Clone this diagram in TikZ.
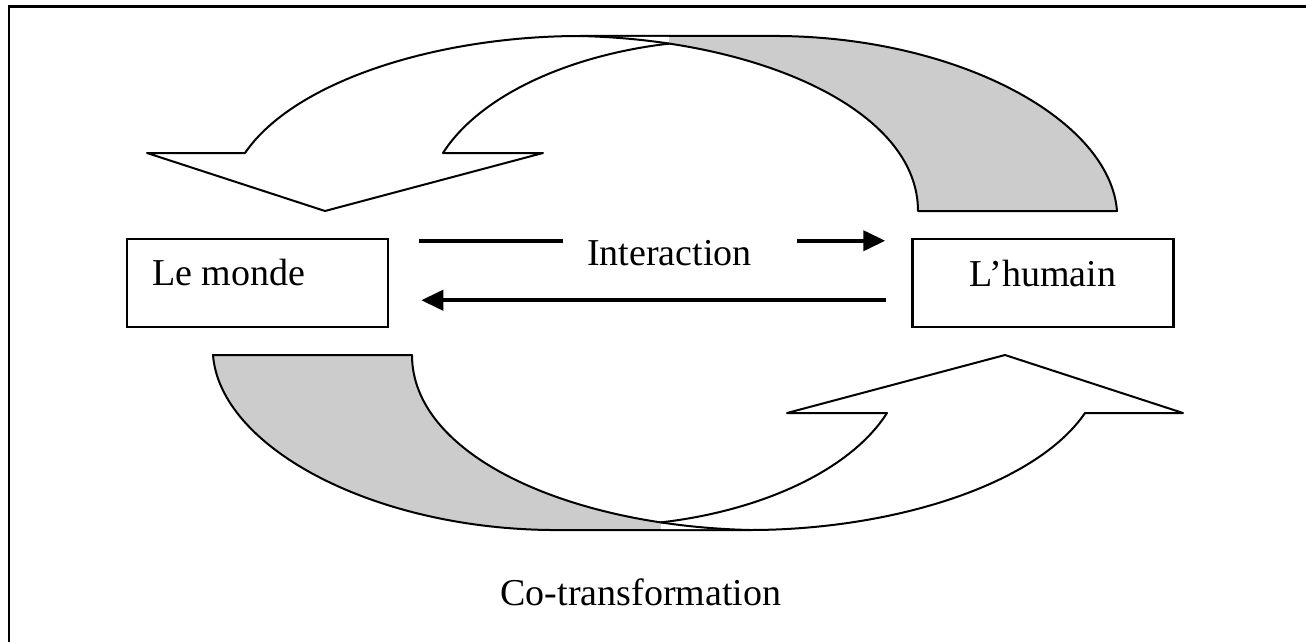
\documentclass[tikz,border=0pt]{standalone}
\usepackage{fontspec}
\setmainfont{Liberation Serif}
\usetikzlibrary{arrows.meta}
\definecolor{bandgray}{RGB}{204,204,204}
\tikzset{
  shapeline/.style={line width=2pt, line join=round},
  framestyle/.style={line width=2.5pt},
  boxstyle/.style={draw, line width=2.5pt, minimum width=261pt, minimum height=88pt, inner sep=0pt},
  conn/.style={line width=4pt, -{Triangle[length=22pt,width=20pt]}},
  lbl/.style={font=\fontsize{38}{44}\selectfont, inner sep=0pt},
  gapstyle/.style={fill=white, inner sep=0pt, minimum width=234pt, minimum height=14pt},
}
\newcommand{\myribbon}{%
  % back face (gray band)
  \filldraw[shapeline, fill=bandgray] (580,36) -- (780,36)
    .. controls (960,38) and (1110,120) .. (1117,211) -- (918,211)
    .. controls (918,110) and (760,40) .. (580,36) -- cycle;
  % front face (white arrow)
  \fill[white] (245,153) .. controls (295,80) and (440,36) .. (580,37)
    -- (669,37) -- (669.2,43.6)
    .. controls (570,55) and (480,95) .. (443,153) -- (543,153) -- (325,211) -- (147,153) -- cycle;
  \draw[shapeline] (580,36) .. controls (440,36) and (295,80) .. (245,153)
    -- (147,153) -- (325,211) -- (543,153) -- (443,153)
    .. controls (480,95) and (570,55) .. (669.2,43.6);
  \draw[shapeline] (580,36) .. controls (610.6,36.7) and (640.6,39.3) .. (669.2,43.6);
}
\begin{document}
\begin{tikzpicture}[x=1pt, y=-1pt]
\useasboundingbox (0,0) rectangle (1306,642);
% outer frame (only top and left edges visible)
\draw[framestyle] (9,642) -- (9,6.5) -- (1306,6.5);

% curved arrows
\myribbon
\begin{scope}[rotate around={180:(665,283)}]
  \myribbon
\end{scope}

% boxes
\node[boxstyle] (monde) at (257.5,283) {};
\node[boxstyle] (humain) at (1043,283) {};
\node[lbl, anchor=base west] (mondet) at (152,285) {Le monde};
\node[lbl, anchor=base] (humaint) at (1043,286) {L’humain};

% interaction arrows
\draw[conn] ([shift={(30,3)}]monde.north east) -- ([shift={(-26,3)}]humain.north west);
\draw[conn] ([shift={(-25,-28)}]humain.south west) -- ([shift={(32,-28)}]monde.south east);
\node[gapstyle] (gap) at (680,242) {};
\node[lbl, anchor=base] (inter) at (669.5,265) {Interaction};

% bottom label
\node[lbl, anchor=base] (cot) at (641,605) {Co-transformation};
\end{tikzpicture}
\end{document}
